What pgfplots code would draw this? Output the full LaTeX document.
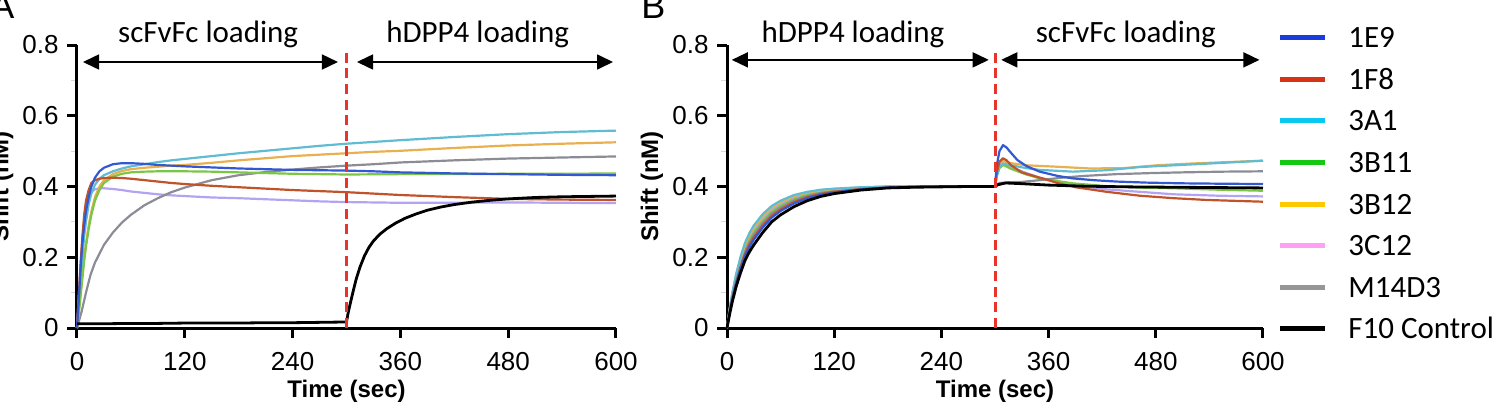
\documentclass[border=0pt]{standalone}
\usepackage{fontspec}
\setmainfont{Liberation Sans}
\newfontfamily\carlito{Carlito}
\usepackage{pgfplots}
\pgfplotsset{compat=1.18}
\usetikzlibrary{arrows.meta}

% curve colours
\definecolor{c1E9}{HTML}{3259D2}
\definecolor{c1F8}{HTML}{C0532A}
\definecolor{c3A1}{HTML}{5FBCD3}
\definecolor{c3B11}{HTML}{7CC647}
\definecolor{c3B12}{HTML}{E8B04E}
\definecolor{c3C12}{HTML}{B3A3F2}
\definecolor{cM14}{HTML}{8C8C96}
\definecolor{dashred}{HTML}{E8352B}
% legend swatch colours
\definecolor{l1E9}{HTML}{1A3CDC}
\definecolor{l1F8}{HTML}{D73214}
\definecolor{l3A1}{HTML}{0AC8F0}
\definecolor{l3B11}{HTML}{14C814}
\definecolor{l3B12}{HTML}{FFC800}
\definecolor{l3C12}{HTML}{FFA0F5}
\definecolor{lM14}{HTML}{969696}

\tikzset{
  phase/.style={line width=0.8pt, {Triangle[length=8pt,width=7.5pt]}-{Triangle[length=8pt,width=7.5pt]}},
  split/.style={dashred, line width=1.5pt, dash pattern=on 5pt off 2.8pt},
  header/.style={font=\carlito\fontsize{15.5}{18}\selectfont, anchor=base},
}

\pgfplotsset{
  kinetics/.style={
    scale only axis, height=141.5pt,
    xmin=0, xmax=600, ymin=0, ymax=0.8,
    axis x line*=bottom, axis y line*=left,
    axis line style={line width=1.5pt, -},
    xtick={0,120,240,360,480,600},
    ytick={0,0.2,0.4,0.6,0.8},
    minor ytick={0.1,0.3,0.5,0.7},
    tick align=outside, major tick length=5pt, minor tick length=3pt,
    major tick style={line width=1.5pt, black},
    minor tick style={line width=0.6pt, black!15},
    ticklabel style={font=\fontsize{13}{15}\selectfont},
    /pgf/number format/assume math mode=true,
    xticklabel style={anchor=north, inner sep=0pt, yshift=-7pt},
    yticklabel style={anchor=east, inner sep=0pt, xshift=-4pt},
    xlabel={Time (sec)}, ylabel={Shift (nM)},
    xlabel style={font=\bfseries\fontsize{12}{14}\selectfont,
      at={(axis description cs:0.5,-0.222)}, anchor=center},
    ylabel style={font=\bfseries\fontsize{12}{14}\selectfont},
    clip=false,
    every axis plot/.append style={line width=1.1pt, line join=round},
  },
}

\begin{document}
\begin{tikzpicture}

% ---------------- A: scFvFc first, then hDPP4 ----------------
\begin{axis}[kinetics, width=269.5pt, at={(38.5pt,38pt)}, anchor=south west,
  ylabel style={at={(axis description cs:-0.139,0.5)}, anchor=center}]

\addplot[c3C12] coordinates {(0,0) (2,0.09) (4,0.18) (6,0.25) (8,0.30) (10,0.34) (13,0.37) (16,0.385) (20,0.392) (25,0.395) (30,0.395) (40,0.393) (50,0.39) (60,0.386) (75,0.382) (90,0.378) (105,0.375) (120,0.373) (150,0.369) (180,0.367) (210,0.364) (240,0.361) (270,0.358) (300,0.356) (360,0.354) (420,0.354) (480,0.355) (540,0.354) (600,0.353)};
\addplot[cM14] coordinates {(0,0) (5,0.045) (10,0.10) (15,0.15) (20,0.185) (25,0.21) (30,0.235) (40,0.27) (50,0.298) (60,0.32) (75,0.347) (90,0.367) (105,0.384) (120,0.397) (150,0.418) (180,0.432) (210,0.441) (240,0.448) (270,0.454) (300,0.459) (330,0.463) (360,0.468) (420,0.474) (480,0.479) (540,0.482) (600,0.485)};
\addplot[c3B12] coordinates {(0,0) (2,0.05) (4,0.1) (6,0.15) (8,0.2) (10,0.24) (13,0.29) (16,0.33) (20,0.37) (25,0.4) (30,0.418) (40,0.435) (50,0.444) (60,0.449) (75,0.453) (90,0.456) (105,0.459) (120,0.461) (150,0.467) (180,0.474) (210,0.48) (240,0.486) (270,0.49) (300,0.494) (330,0.498) (360,0.501) (420,0.509) (480,0.516) (540,0.521) (600,0.525)};
\addplot[c3A1] coordinates {(0,0) (2,0.06) (4,0.13) (6,0.2) (8,0.26) (10,0.3) (13,0.35) (16,0.38) (20,0.405) (25,0.422) (30,0.432) (40,0.443) (50,0.451) (60,0.457) (75,0.463) (90,0.469) (105,0.474) (120,0.478) (150,0.486) (180,0.494) (210,0.501) (240,0.508) (270,0.515) (300,0.521) (330,0.526) (360,0.531) (420,0.540) (480,0.548) (540,0.554) (600,0.558)};
\addplot[c3B11] coordinates {(0,0) (2,0.04) (4,0.09) (6,0.14) (8,0.19) (10,0.23) (13,0.28) (16,0.32) (20,0.36) (25,0.39) (30,0.41) (40,0.428) (50,0.436) (60,0.44) (75,0.442) (90,0.443) (105,0.443) (120,0.443) (150,0.442) (180,0.44) (210,0.438) (240,0.436) (270,0.435) (300,0.434) (360,0.435) (420,0.435) (480,0.436) (540,0.436) (600,0.437)};
\addplot[c1F8] coordinates {(0,0) (2,0.09) (4,0.18) (6,0.26) (8,0.32) (10,0.36) (13,0.39) (16,0.41) (20,0.418) (25,0.422) (30,0.424) (40,0.425) (50,0.424) (60,0.422) (75,0.418) (90,0.414) (105,0.41) (120,0.407) (150,0.402) (180,0.398) (210,0.394) (240,0.39) (270,0.387) (300,0.384) (330,0.38) (360,0.376) (420,0.37) (480,0.365) (540,0.363) (600,0.362)};
\addplot[c1E9] coordinates {(0,0) (2,0.08) (4,0.17) (6,0.24) (8,0.29) (10,0.33) (13,0.37) (16,0.40) (20,0.425) (25,0.443) (30,0.453) (40,0.463) (50,0.466) (60,0.466) (75,0.464) (90,0.461) (105,0.459) (120,0.457) (150,0.454) (180,0.451) (210,0.449) (240,0.447) (270,0.446) (300,0.445) (330,0.443) (360,0.440) (420,0.437) (480,0.435) (540,0.433) (600,0.432)};
\addplot[black, line width=1.4pt] coordinates {(0,0.012) (30,0.012) (60,0.013) (90,0.013) (120,0.014) (150,0.014) (180,0.014) (210,0.015) (240,0.015) (270,0.016) (298,0.017) (300,0.017) (302,0.045) (305,0.078) (308,0.11) (311,0.14) (315,0.172) (320,0.204) (325,0.228) (330,0.246) (337,0.265) (345,0.281) (355,0.297) (365,0.31) (377,0.322) (390,0.333) (405,0.342) (420,0.349) (440,0.356) (460,0.361) (480,0.365) (510,0.369) (540,0.371) (570,0.372) (600,0.373)};

\addplot[split] coordinates {(300,0) (300,0.79)};
\draw[phase] (axis cs:6.7,0.752) -- (axis cs:290.5,0.752);
\draw[phase] (axis cs:311.7,0.752) -- (axis cs:596.7,0.752);
\node[header] at (axis cs:146,0.806) {scFvFc loading};
\node[header] at (axis cs:446,0.806) {hDPP4 loading};
\end{axis}

% ---------------- B: hDPP4 first, then scFvFc ----------------
\begin{axis}[kinetics, width=268pt, at={(363.5pt,38pt)}, anchor=south west,
  ylabel style={at={(axis description cs:-0.14,0.5)}, anchor=center},
  legend cell align=left,
  legend image code/.code={\draw[line width=2.5pt] (0pt,0pt) -- (22.5pt,0pt);},
  legend style={draw=none, fill=none, inner sep=0pt,
    at={(rel axis cs:1.026,1.0767)}, anchor=north west,
    font=\carlito\fontsize{15.5}{18}\selectfont, row sep=6.8pt,
    nodes={inner sep=0pt, text height=12pt, text depth=2pt},
    /tikz/every odd column/.append style={column sep=10.5pt}}]

\addlegendimage{l1E9}\addlegendentry{1E9}
\addlegendimage{l1F8}\addlegendentry{1F8}
\addlegendimage{l3A1}\addlegendentry{3A1}
\addlegendimage{l3B11}\addlegendentry{3B11}
\addlegendimage{l3B12}\addlegendentry{3B12}
\addlegendimage{l3C12}\addlegendentry{3C12}
\addlegendimage{lM14}\addlegendentry{M14D3}
\addlegendimage{black}\addlegendentry{F10 Control}

\addplot[c3C12, forget plot] coordinates {(0,0) (3,0.052) (6,0.095) (10,0.142) (15,0.19) (20,0.228) (25,0.256) (30,0.277) (40,0.31) (50,0.335) (60,0.351) (75,0.369) (90,0.38) (105,0.387) (120,0.391) (150,0.396) (180,0.399) (210,0.4) (240,0.4) (270,0.4) (300,0.4) (302,0.435) (305,0.458) (309,0.465) (318,0.455) (335,0.438) (350,0.425) (387,0.404) (425,0.392) (462,0.385) (500,0.378) (550,0.374) (600,0.372)};
\addplot[c3B11, forget plot] coordinates {(0,0) (3,0.05) (6,0.091) (10,0.137) (15,0.183) (20,0.22) (25,0.248) (30,0.269) (40,0.302) (50,0.328) (60,0.345) (75,0.364) (90,0.376) (105,0.384) (120,0.389) (150,0.395) (180,0.398) (210,0.399) (240,0.4) (270,0.4) (300,0.4) (302,0.43) (305,0.452) (309,0.461) (318,0.45) (335,0.434) (350,0.423) (387,0.409) (425,0.401) (462,0.397) (500,0.395) (550,0.391) (600,0.388)};
\addplot[cM14, forget plot] coordinates {(0,0) (3,0.048) (6,0.088) (10,0.133) (15,0.178) (20,0.215) (25,0.242) (30,0.263) (40,0.296) (50,0.323) (60,0.34) (75,0.36) (90,0.373) (105,0.382) (120,0.387) (150,0.394) (180,0.398) (210,0.399) (240,0.4) (270,0.4) (300,0.4) (305,0.41) (315,0.412) (330,0.413) (350,0.418) (375,0.425) (400,0.43) (436,0.435) (475,0.438) (510,0.44) (555,0.442) (600,0.443)};
\addplot[c3B12, forget plot] coordinates {(0,0) (3,0.053) (6,0.097) (10,0.146) (15,0.195) (20,0.234) (25,0.262) (30,0.284) (40,0.316) (50,0.34) (60,0.356) (75,0.373) (90,0.383) (105,0.389) (120,0.393) (150,0.397) (180,0.4) (210,0.4) (240,0.4) (270,0.4) (300,0.4) (302,0.44) (305,0.465) (309,0.472) (318,0.466) (335,0.46) (369,0.456) (406,0.451) (444,0.452) (481,0.46) (520,0.465) (560,0.469) (600,0.473)};
\addplot[c3A1, forget plot] coordinates {(0,0) (3,0.055) (6,0.1) (10,0.15) (15,0.2) (20,0.24) (25,0.268) (30,0.29) (40,0.322) (50,0.345) (60,0.36) (75,0.376) (90,0.385) (105,0.391) (120,0.394) (150,0.398) (180,0.4) (210,0.4) (240,0.4) (270,0.4) (300,0.4) (302,0.43) (305,0.455) (309,0.465) (318,0.46) (335,0.452) (350,0.447) (387,0.442) (425,0.446) (462,0.455) (500,0.46) (540,0.465) (570,0.469) (600,0.473)};
\addplot[c1F8, forget plot] coordinates {(0,0) (3,0.046) (6,0.085) (10,0.128) (15,0.172) (20,0.208) (25,0.235) (30,0.256) (40,0.29) (50,0.317) (60,0.335) (75,0.356) (90,0.37) (105,0.379) (120,0.385) (150,0.393) (180,0.397) (210,0.399) (240,0.4) (270,0.4) (300,0.4) (302,0.44) (305,0.47) (309,0.48) (313,0.474) (318,0.46) (330,0.44) (350,0.425) (370,0.41) (390,0.398) (425,0.385) (462,0.374) (500,0.367) (537,0.362) (600,0.357)};
\addplot[c1E9, forget plot] coordinates {(0,0) (3,0.044) (6,0.082) (10,0.124) (15,0.166) (20,0.203) (25,0.229) (30,0.25) (40,0.284) (50,0.312) (60,0.331) (75,0.352) (90,0.367) (105,0.377) (120,0.383) (150,0.392) (180,0.397) (210,0.399) (240,0.4) (270,0.4) (300,0.4) (302,0.46) (305,0.5) (309,0.517) (313,0.51) (318,0.495) (325,0.475) (335,0.458) (350,0.442) (370,0.43) (387,0.423) (410,0.418) (436,0.414) (470,0.411) (510,0.409) (550,0.408) (600,0.407)};
\addplot[black, line width=1.4pt, forget plot] coordinates {(0,0) (3,0.04) (6,0.075) (10,0.115) (15,0.155) (20,0.19) (25,0.215) (30,0.235) (40,0.27) (50,0.3) (60,0.32) (75,0.343) (90,0.36) (105,0.372) (120,0.38) (150,0.39) (180,0.396) (210,0.398) (240,0.399) (270,0.4) (300,0.4) (303,0.405) (312,0.41) (330,0.408) (360,0.404) (400,0.401) (450,0.399) (500,0.398) (550,0.397) (600,0.396)};

\addplot[split, forget plot] coordinates {(300,0) (300,0.79)};
\draw[phase] (axis cs:5.4,0.758) -- (axis cs:293,0.758);
\draw[phase] (axis cs:307,0.758) -- (axis cs:596,0.758);
\node[header] at (axis cs:141,0.806) {hDPP4 loading};
\node[header] at (axis cs:446.5,0.806) {scFvFc loading};
\end{axis}

% panel letters
\node[anchor=base west, inner sep=0pt, font=\fontsize{18}{20}\selectfont] at (-5pt,193pt) {A};
\node[anchor=base west, inner sep=0pt, font=\fontsize{18}{20}\selectfont] at (320.5pt,193pt) {B};

\pgfresetboundingbox
\useasboundingbox (0pt,0pt) rectangle (750pt,202pt);
\end{tikzpicture}
\end{document}
